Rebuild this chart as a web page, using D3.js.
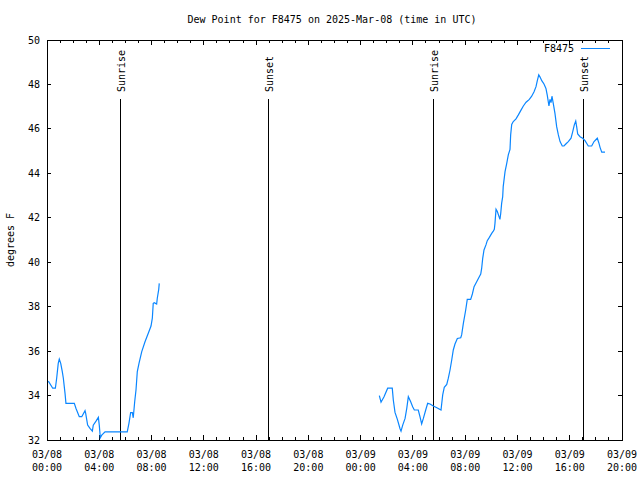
<!DOCTYPE html>
<html>
<head>
<meta charset="utf-8">
<script src="https://cdn.jsdelivr.net/npm/d3@7"></script>
<style>
  html, body { margin: 0; padding: 0; background: #fff; }
  svg { display: block; }
  text { font-family: "DejaVu Sans Mono", "Liberation Mono", monospace; font-size: 10px; fill: #000; }
</style>
</head>
<body>
<script>
// ---- DATA ----
const title = "Dew Point for F8475 on 2025-Mar-08 (time in UTC)";
const seriesName = "F8475";
const yLabel = "degrees F";
// hours since 2025-03-08 00:00 UTC (null value = gap)
const hoursUTC = [
  0.10,0.44,0.64,0.74,0.86,0.94,1.05,1.17,1.25,1.38,1.45,2.09,2.22,2.47,2.66,2.91,2.96,3.11,3.29,3.47,3.54,3.75,3.93,4.00,4.08,4.19,4.44,6.14,6.27,6.40,6.53,6.60,6.71,6.81,6.91,7.04,7.25,7.50,7.75,7.96,8.06,8.13,8.21,8.39,8.44,8.55,8.59,
  17.0,
  25.43,25.56,25.79,26.07,26.42,26.50,26.63,26.81,27.01,27.09,27.22,27.40,27.53,27.65,27.83,27.98,28.11,28.41,28.54,28.67,28.80,28.98,29.13,29.31,29.56,29.87,30.15,30.28,30.40,30.59,30.71,30.84,30.97,31.09,31.22,31.40,31.66,31.73,31.86,32.04,32.16,32.42,32.55,32.68,32.88,33.06,33.19,33.26,33.34,33.44,33.59,33.69,33.85,34.03,34.15,34.23,34.28,34.36,34.46,34.59,34.66,34.72,34.79,34.87,34.91,35.05,35.18,35.30,35.43,35.48,35.56,35.68,35.89,36.07,36.25,36.45,36.66,36.91,37.09,37.27,37.42,37.52,37.63,37.73,37.86,38.03,38.18,38.28,38.41,38.49,38.57,38.64,38.74,38.87,39.00,39.13,39.26,39.43,39.56,39.72,39.89,40.10,40.23,40.35,40.46,40.53,40.61,40.79,40.99,41.17,41.42,41.68,41.86,42.11,42.24,42.32,42.45,42.70
];
const dewPointF = [
  34.65,34.33,34.33,34.78,35.45,35.64,35.45,35.08,34.78,34.10,33.65,33.65,33.42,33.05,33.05,33.32,33.20,32.67,32.52,32.40,32.67,32.85,33.02,32.67,32.10,32.22,32.37,32.37,32.75,33.23,33.23,33.00,33.72,34.25,35.08,35.45,35.98,36.42,36.80,37.13,37.48,38.15,38.18,38.12,38.38,38.78,39.05,
  null,
  34.00,33.70,33.95,34.33,34.33,33.80,33.24,32.93,32.52,32.40,32.67,32.97,33.42,33.95,33.72,33.50,33.35,33.35,33.05,32.72,32.97,33.35,33.65,33.62,33.53,33.44,33.35,34.03,34.37,34.50,34.78,35.15,35.60,36.05,36.32,36.57,36.60,36.73,37.25,37.85,38.33,38.33,38.57,38.90,39.12,39.32,39.47,39.72,40.17,40.55,40.78,40.97,41.12,41.30,41.40,41.48,41.75,42.38,42.28,42.05,41.93,42.20,42.65,42.95,43.40,44.08,44.45,44.83,45.08,45.73,46.20,46.33,46.45,46.63,46.82,47.03,47.20,47.33,47.47,47.67,47.90,48.17,48.43,48.33,48.17,48.02,47.82,47.52,47.03,47.33,47.18,47.47,47.15,46.70,46.10,45.73,45.43,45.23,45.23,45.33,45.43,45.58,45.88,46.18,46.35,46.10,45.77,45.65,45.58,45.47,45.23,45.23,45.43,45.58,45.35,45.17,44.95,44.95
];
const sunEventHours = [5.59, 16.90, 29.53, 41.02];
const sunEventLabels = ["Sunrise", "Sunset", "Sunrise", "Sunset"];
const yTicks = [32,34,36,38,40,42,44,46,48,50];
const xDomainHours = [0, 44];
const yDomain = [32, 50];

// ---- CHART ----
const W = 640, H = 480;
const m = {left: 47, right: 18, top: 40, bottom: 40};
const base = Date.UTC(2025, 2, 8, 0, 0);
const toDate = h => new Date(base + h * 3600e3);

const svg = d3.select("body").append("svg").attr("width", W).attr("height", H);

const x = d3.scaleUtc().domain(xDomainHours.map(toDate)).range([m.left, W - m.right]);
const y = d3.scaleLinear().domain(yDomain).range([H - m.bottom, m.top]);

const x0 = m.left, x1 = W - m.right, y0 = H - m.bottom, y1 = m.top;

// title
svg.append("text").attr("x", 332).attr("y", 23).attr("text-anchor", "middle").text(title);

// y label
svg.append("text").attr("transform", `translate(14,${(y0 + y1) / 2}) rotate(-90)`)
  .attr("text-anchor", "middle").text(yLabel);

const axes = svg.append("g").attr("shape-rendering", "crispEdges").attr("stroke", "#000");

// x ticks (minor every hour, major every 4h) on bottom and top, inward
const minor = d3.utcHour.every(1).range(toDate(0), toDate(44.01));
const major = d3.utcHour.every(4).range(toDate(0), toDate(44.01));
minor.forEach(d => {
  const isMajor = d.getUTCHours() % 4 === 0;
  const len = isMajor ? 5 : 3;
  axes.append("line").attr("x1", x(d)).attr("x2", x(d)).attr("y1", y0).attr("y2", y0 - len);
  axes.append("line").attr("x1", x(d)).attr("x2", x(d)).attr("y1", y1).attr("y2", y1 + len);
});
const fmtD = d3.utcFormat("%m/%d"), fmtT = d3.utcFormat("%H:%M");
major.forEach(d => {
  svg.append("text").attr("x", x(d)).attr("y", 458).attr("text-anchor", "middle").text(fmtD(d));
  svg.append("text").attr("x", x(d)).attr("y", 471).attr("text-anchor", "middle").text(fmtT(d));
});

// y ticks left and right, inward
yTicks.forEach(v => {
  axes.append("line").attr("x1", x0).attr("x2", x0 + 4).attr("y1", y(v)).attr("y2", y(v));
  axes.append("line").attr("x1", x1).attr("x2", x1 - 4).attr("y1", y(v)).attr("y2", y(v));
  svg.append("text").attr("x", 40).attr("y", y(v)).attr("dy", "0.35em")
    .attr("text-anchor", "end").text(v);
});

// sun events
sunEventHours.forEach((h, i) => {
  const xs = Math.round(x(toDate(h))) + 0.5;
  axes.append("line").attr("x1", xs).attr("x2", xs).attr("y1", 99).attr("y2", y0);
  svg.append("text").attr("transform", `translate(${xs + 4},92) rotate(-90)`)
    .attr("text-anchor", "start").text(sunEventLabels[i]);
});

// frame
axes.append("rect").attr("x", x0 + 0.5).attr("y", y1 + 0.5)
  .attr("width", x1 - x0).attr("height", y0 - y1).attr("fill", "none");

// data line
const data = hoursUTC.map((h, i) => ({t: toDate(h), v: dewPointF[i]}));
const line = d3.line().defined(d => d.v !== null).x(d => x(d.t)).y(d => y(d.v));
svg.append("path").datum(data).attr("d", line)
  .attr("fill", "none").attr("stroke", "#0a86ff").attr("stroke-width", 1.2);

// legend
svg.append("text").attr("x", 574).attr("y", 52).attr("text-anchor", "end").text(seriesName);
svg.append("line").attr("x1", 581).attr("x2", 610).attr("y1", 48.5).attr("y2", 48.5)
  .attr("stroke", "#0a86ff").attr("stroke-width", 1);
</script>
</body>
</html>
